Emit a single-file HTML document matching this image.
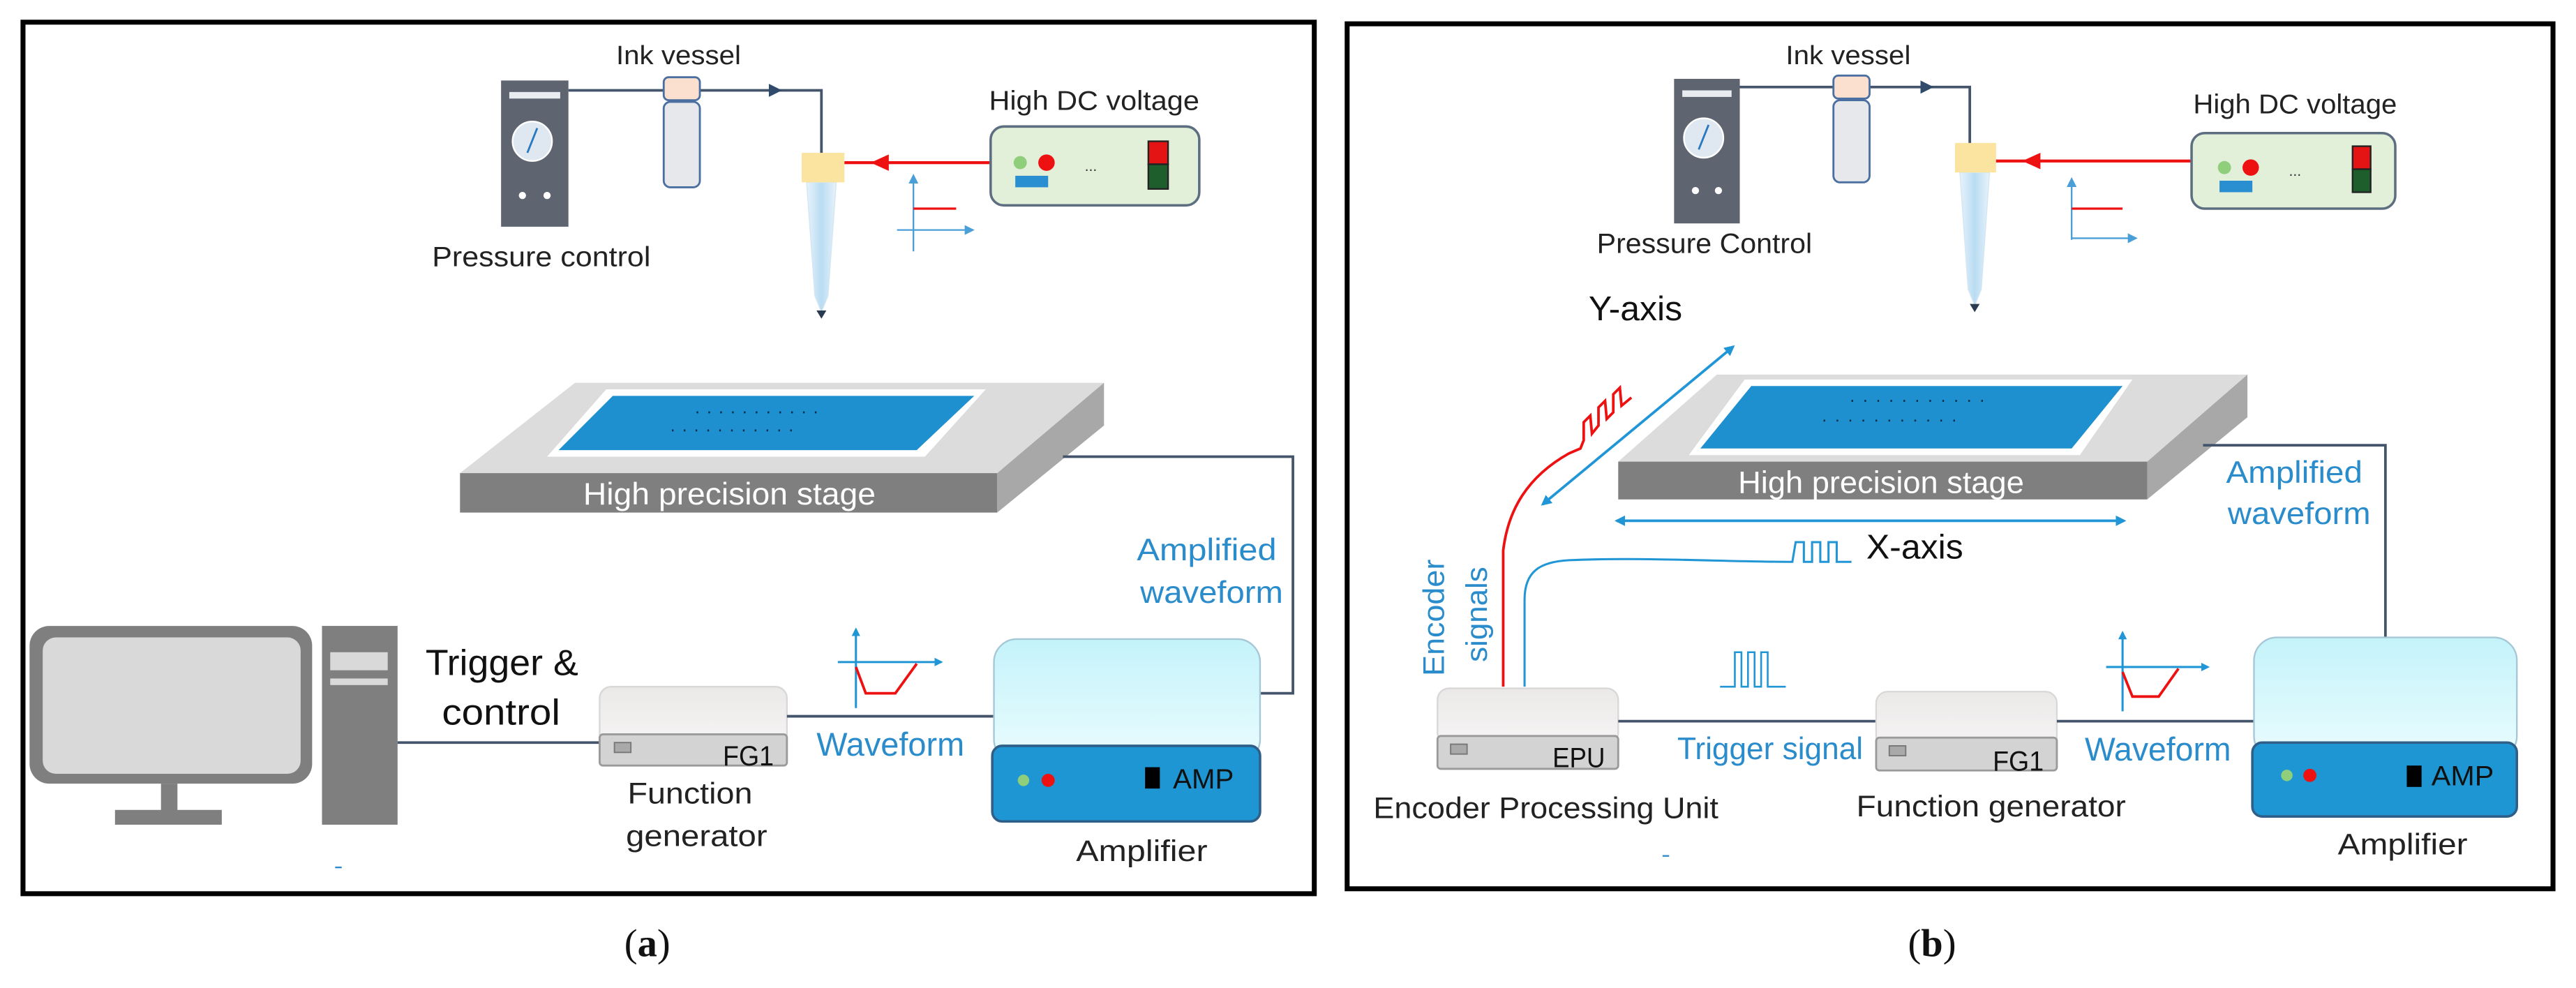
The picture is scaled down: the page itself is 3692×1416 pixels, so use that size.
<!DOCTYPE html>
<html><head><meta charset="utf-8"><style>
html,body{margin:0;padding:0;background:#fff;}
svg{display:block;}
text{font-family:"Liberation Sans",sans-serif;}
</style></head><body>
<svg width="3692" height="1416" viewBox="0 0 1568 601.4" preserveAspectRatio="none" xmlns="http://www.w3.org/2000/svg">
<defs>
<linearGradient id="amp" x1="0" y1="0" x2="0" y2="1"><stop offset="0" stop-color="#c4f3fa"/><stop offset="1" stop-color="#eafcfe"/></linearGradient>
<linearGradient id="box" x1="0" y1="0" x2="0" y2="1"><stop offset="0" stop-color="#ebe8e8"/><stop offset="1" stop-color="#f6f4f4"/></linearGradient>
<linearGradient id="tube" x1="0" y1="0" x2="1" y2="0"><stop offset="0" stop-color="#e8f3fb"/><stop offset="0.5" stop-color="#b9dcf2"/><stop offset="1" stop-color="#e8f3fb"/></linearGradient>
<marker id="ab" viewBox="0 0 10 10" refX="8" refY="5" markerWidth="4" markerHeight="4" orient="auto-start-reverse"><path d="M0,0L10,5L0,10z" fill="#2196d6"/></marker>
<marker id="abs" viewBox="0 0 10 10" refX="8" refY="5" markerWidth="6" markerHeight="6" orient="auto"><path d="M0,0L10,5L0,10z" fill="#4a9fd8"/></marker>
</defs>
<rect width="1568" height="601.4" fill="#fff"/>

<rect x="14" y="13.5" width="786" height="530.5" fill="none" stroke="#000" stroke-width="3"/>
<rect x="820" y="14.5" width="734" height="526.5" fill="none" stroke="#000" stroke-width="3"/>

<!-- ================= PANEL A ================= -->
<g>
<path d="M346,55 H500 V93" fill="none" stroke="#44546a" stroke-width="1.6"/>
<path d="M468,51 L476,55 L468,59z" fill="#2f4a6a"/>
<rect x="305" y="49" width="41" height="89" fill="#5e6470"/>
<rect x="310" y="56" width="31" height="4" fill="#e8ecf0"/>
<circle cx="324" cy="86" r="12" fill="#dfe8f0" stroke="#fff" stroke-width="1"/>
<path d="M321,93 L327,78" stroke="#2a78c2" stroke-width="1.2"/>
<circle cx="318" cy="119" r="2.2" fill="#fff"/><circle cx="333" cy="119" r="2.2" fill="#fff"/>
<text x="263" y="162" font-size="17" textLength="133" lengthAdjust="spacingAndGlyphs" fill="#222">Pressure control</text>
<rect x="404" y="47" width="22" height="14" rx="3" fill="#fbe0d0" stroke="#4a6fa0" stroke-width="1.2"/>
<rect x="404" y="62" width="22" height="52" rx="4" fill="#e6e8ec" stroke="#4a6fa0" stroke-width="1.2"/>
<text x="375" y="39" font-size="16" textLength="76" lengthAdjust="spacingAndGlyphs" fill="#222">Ink vessel</text>
<path d="M491,111 L509,111 L504,180 L500,190 L496,180 Z" fill="url(#tube)" stroke="#d3e6f3" stroke-width="0.6"/>
<path d="M497,189 L503,189 L500,194z" fill="#2a3a50"/>
<rect x="488" y="93" width="26" height="18" fill="#fbe49f"/>
<path d="M603,99 H514" stroke="#ee1111" stroke-width="1.8"/>
<path d="M530,99 L541,94 L541,104z" fill="#ee1111"/>
<text x="602" y="67" font-size="16.5" textLength="128" lengthAdjust="spacingAndGlyphs" fill="#222">High DC voltage</text>
<rect x="603" y="77" width="127" height="48" rx="8" fill="#e2efd9" stroke="#5c6e80" stroke-width="1.5"/>
<circle cx="621" cy="99" r="4" fill="#8fce7b"/><circle cx="637" cy="99" r="5" fill="#ee1111"/>
<rect x="618" y="107" width="20" height="7" fill="#2a8fd0"/>
<text x="664" y="104" font-size="9" text-anchor="middle" fill="#333">...</text>
<rect x="699" y="86" width="12" height="14" fill="#e51414" stroke="#222" stroke-width="1"/>
<rect x="699" y="100" width="12" height="15" fill="#1e5e2c" stroke="#222" stroke-width="1"/>
<path d="M556,153 V107" stroke="#4a9fd8" stroke-width="1" marker-end="url(#abs)"/>
<path d="M546,140 H592" stroke="#4a9fd8" stroke-width="1" marker-end="url(#abs)"/>
<path d="M556,127 H582" stroke="#ee1111" stroke-width="1.4"/>
<polygon points="280,288 350,233 672,233 607,288" fill="#dcdcdc"/>
<polygon points="607,288 672,233 672,259 607,312" fill="#a8a8a8"/>
<rect x="280" y="288" width="327" height="24" fill="#7f7f7f"/>
<polygon points="333,278 369,237 600,237 563,278" fill="#fff"/>
<polygon points="340,274 373,241 593,241 558,274" fill="#1e8fcf"/>
<line x1="424" y1="251" x2="503" y2="251" stroke="#0a2a45" stroke-width="1.2" stroke-dasharray="1,6.2"/>
<line x1="409" y1="262" x2="488" y2="262" stroke="#0a2a45" stroke-width="1.2" stroke-dasharray="1,6.2"/>
<text x="355" y="307" font-size="19" textLength="178" lengthAdjust="spacingAndGlyphs" fill="#fff">High precision stage</text>
<path d="M647,278 H787 V422 H767" fill="none" stroke="#44546a" stroke-width="1.6"/>
<text x="692" y="341" font-size="19" textLength="85" lengthAdjust="spacingAndGlyphs" fill="#2b8ccc">Amplified</text>
<text x="694" y="367" font-size="19" textLength="87" lengthAdjust="spacingAndGlyphs" fill="#2b8ccc">waveform</text>
<rect x="18" y="381" width="172" height="96" rx="12" fill="#7f7f7f"/>
<rect x="26" y="388" width="157" height="83" rx="8" fill="#d9d9d9"/>
<rect x="98" y="477" width="10" height="17" fill="#7f7f7f"/>
<rect x="70" y="493" width="65" height="9" fill="#7f7f7f"/>
<rect x="196" y="381" width="46" height="121" fill="#7f7f7f"/>
<rect x="201" y="397" width="35" height="11" fill="#d9d9d9"/>
<rect x="201" y="413" width="35" height="4" fill="#d9d9d9"/>
<text x="259" y="411" font-size="22" textLength="93" lengthAdjust="spacingAndGlyphs" fill="#111">Trigger &amp;</text>
<text x="269" y="441" font-size="22" textLength="72" lengthAdjust="spacingAndGlyphs" fill="#111">control</text>
<path d="M242,452 H365" stroke="#44546a" stroke-width="1.6"/>
<rect x="365" y="418" width="114" height="36" rx="7" fill="url(#box)" stroke="#d8d8d8" stroke-width="1"/>
<rect x="365" y="447" width="114" height="19" rx="2" fill="#d3d3d3" stroke="#9a9a9a" stroke-width="1.2"/>
<rect x="374" y="452" width="10" height="6" fill="#a9a9a9" stroke="#777" stroke-width="0.8"/>
<text x="440" y="466" font-size="17" textLength="31" lengthAdjust="spacingAndGlyphs" fill="#111">FG1</text>
<text x="382" y="489" font-size="18" textLength="76" lengthAdjust="spacingAndGlyphs" fill="#222">Function</text>
<text x="381" y="515" font-size="18" textLength="86" lengthAdjust="spacingAndGlyphs" fill="#222">generator</text>
<path d="M479,436 H605" stroke="#44546a" stroke-width="1.6"/>
<path d="M521,431 V383" stroke="#2196d6" stroke-width="1.3" marker-end="url(#ab)"/>
<path d="M510,403 H573" stroke="#2196d6" stroke-width="1.3" marker-end="url(#ab)"/>
<path d="M521,406 L527,422 L545,422 L558,404" fill="none" stroke="#ee1111" stroke-width="1.6"/>
<text x="497" y="460" font-size="20" textLength="90" lengthAdjust="spacingAndGlyphs" fill="#2b8ccc">Waveform</text>
<rect x="605" y="389" width="162" height="75" rx="14" fill="url(#amp)" stroke="#a6c8d6" stroke-width="1"/>
<rect x="604" y="454" width="163" height="46" rx="6" fill="#1e96d3" stroke="#2f5f88" stroke-width="1.5"/>
<circle cx="623" cy="475" r="3.5" fill="#8fce7b"/><circle cx="638" cy="475" r="4" fill="#ee1111"/>
<rect x="697" y="467" width="9" height="13" fill="#000"/>
<text x="714" y="480" font-size="17" textLength="37" lengthAdjust="spacingAndGlyphs" fill="#111">AMP</text>
<text x="655" y="524" font-size="18" textLength="80" lengthAdjust="spacingAndGlyphs" fill="#222">Amplifier</text>
<path d="M204,528 H208" stroke="#2b8ccc" stroke-width="1"/>
</g>

<!-- ================= PANEL B ================= -->
<g>
<path d="M1059,53 H1199 V88" fill="none" stroke="#44546a" stroke-width="1.6"/>
<path d="M1169,49 L1177,53 L1169,57z" fill="#2f4a6a"/>
<rect x="1019" y="48" width="40" height="88" fill="#5e6470"/>
<rect x="1024" y="55" width="30" height="4" fill="#e8ecf0"/>
<circle cx="1037" cy="84" r="12" fill="#dfe8f0" stroke="#fff" stroke-width="1"/>
<path d="M1034,91 L1040,76" stroke="#2a78c2" stroke-width="1.2"/>
<circle cx="1032" cy="116" r="2.2" fill="#fff"/><circle cx="1046" cy="116" r="2.2" fill="#fff"/>
<text x="972" y="154" font-size="17" textLength="131" lengthAdjust="spacingAndGlyphs" fill="#222">Pressure Control</text>
<rect x="1116" y="46" width="22" height="14" rx="3" fill="#fbe0d0" stroke="#4a6fa0" stroke-width="1.2"/>
<rect x="1116" y="61" width="22" height="50" rx="4" fill="#e6e8ec" stroke="#4a6fa0" stroke-width="1.2"/>
<text x="1087" y="39" font-size="16" textLength="76" lengthAdjust="spacingAndGlyphs" fill="#222">Ink vessel</text>
<path d="M1193,105 L1211,105 L1206,176 L1202,186 L1198,176 Z" fill="url(#tube)" stroke="#d3e6f3" stroke-width="0.6"/>
<path d="M1199,185 L1205,185 L1202,190z" fill="#2a3a50"/>
<rect x="1190" y="87" width="25" height="18" fill="#fbe49f"/>
<path d="M1334,98 H1215" stroke="#ee1111" stroke-width="1.8"/>
<path d="M1231,98 L1242,93 L1242,103z" fill="#ee1111"/>
<text x="1335" y="69" font-size="16.5" textLength="124" lengthAdjust="spacingAndGlyphs" fill="#222">High DC voltage</text>
<rect x="1334" y="81" width="124" height="46" rx="8" fill="#e2efd9" stroke="#5c6e80" stroke-width="1.5"/>
<circle cx="1354" cy="102" r="4" fill="#8fce7b"/><circle cx="1370" cy="102" r="5" fill="#ee1111"/>
<rect x="1351" y="110" width="20" height="7" fill="#2a8fd0"/>
<text x="1397" y="107" font-size="9" text-anchor="middle" fill="#333">...</text>
<rect x="1432" y="89" width="11" height="14" fill="#e51414" stroke="#222" stroke-width="1"/>
<rect x="1432" y="103" width="11" height="14" fill="#1e5e2c" stroke="#222" stroke-width="1"/>
<path d="M1261,146 V109" stroke="#4a9fd8" stroke-width="1" marker-end="url(#abs)"/>
<path d="M1261,145 H1300" stroke="#4a9fd8" stroke-width="1" marker-end="url(#abs)"/>
<path d="M1261,127 H1292" stroke="#ee1111" stroke-width="1.4"/>
<text x="967" y="195" font-size="21" textLength="57" lengthAdjust="spacingAndGlyphs" fill="#111">Y-axis</text>
<path d="M939,307 L1055,211" stroke="#2196d6" stroke-width="1.6" marker-start="url(#ab)" marker-end="url(#ab)"/>
<polygon points="985,281 1045,228 1368,228 1307,281" fill="#dcdcdc"/>
<polygon points="1307,281 1368,228 1368,254 1307,304" fill="#a8a8a8"/>
<rect x="985" y="281" width="322" height="23" fill="#7f7f7f"/>
<polygon points="1028,277 1062,231 1298,231 1266,277" fill="#fff"/>
<polygon points="1035,273 1066,235 1292,235 1261,273" fill="#1e8fcf"/>
<line x1="1127" y1="244" x2="1207" y2="244" stroke="#0a2a45" stroke-width="1.2" stroke-dasharray="1,6.9"/>
<line x1="1110" y1="256" x2="1190" y2="256" stroke="#0a2a45" stroke-width="1.2" stroke-dasharray="1,6.9"/>
<text x="1058" y="300" font-size="19" textLength="174" lengthAdjust="spacingAndGlyphs" fill="#fff">High precision stage</text>
<path d="M1341,271 H1452 V388" fill="none" stroke="#44546a" stroke-width="1.6"/>
<text x="1355" y="294" font-size="19" textLength="83" lengthAdjust="spacingAndGlyphs" fill="#2b8ccc">Amplified</text>
<text x="1356" y="319" font-size="19" textLength="87" lengthAdjust="spacingAndGlyphs" fill="#2b8ccc">waveform</text>
<path d="M984,317 H1293" stroke="#2196d6" stroke-width="1.6" marker-start="url(#ab)" marker-end="url(#ab)"/>
<text x="1136" y="340" font-size="21" textLength="59" lengthAdjust="spacingAndGlyphs" fill="#111">X-axis</text>
<path d="M915,418 V335 C918,310 930,290 955,276 L962,273 L964,268 L964,257 L968,253 L969,264 L973,259 L973,248 L977,244 L978,255 L982,251 L982,240 L986,236 L987,247 L993,242" fill="none" stroke="#ee1111" stroke-width="1.6"/>
<path d="M928,418 V365 C928,348 937,342 955,341 C1000,339 1050,342 1091,342 L1093,330 L1098,330 L1098,342 L1103,342 L1103,330 L1108,330 L1108,342 L1113,342 L1113,330 L1118,330 L1118,342 L1127,342" fill="none" stroke="#2196d6" stroke-width="1.3"/>
<text transform="translate(879,376) rotate(-90)" font-size="18" text-anchor="middle" textLength="71" lengthAdjust="spacingAndGlyphs" fill="#2b8ccc">Encoder</text>
<text transform="translate(905,374) rotate(-90)" font-size="18" text-anchor="middle" textLength="58" lengthAdjust="spacingAndGlyphs" fill="#2b8ccc">signals</text>
<path d="M1047,418 H1056 V397 H1060 V418 H1064 V397 H1068 V418 H1072 V397 H1076 V418 H1087" fill="none" stroke="#2196d6" stroke-width="1.1"/>
<rect x="875" y="419" width="110" height="34" rx="7" fill="url(#box)" stroke="#d8d8d8" stroke-width="1"/>
<rect x="875" y="448" width="110" height="20" rx="2" fill="#d3d3d3" stroke="#9a9a9a" stroke-width="1.2"/>
<rect x="883" y="453" width="10" height="6" fill="#a9a9a9" stroke="#777" stroke-width="0.8"/>
<text x="945" y="467" font-size="17" textLength="32" lengthAdjust="spacingAndGlyphs" fill="#111">EPU</text>
<text x="836" y="498" font-size="18" textLength="210" lengthAdjust="spacingAndGlyphs" fill="#222">Encoder Processing Unit</text>
<path d="M985,439 H1142" stroke="#44546a" stroke-width="1.6"/>
<text x="1021" y="462" font-size="19" textLength="113" lengthAdjust="spacingAndGlyphs" fill="#2b8ccc">Trigger signal</text>
<rect x="1142" y="421" width="110" height="34" rx="7" fill="url(#box)" stroke="#d8d8d8" stroke-width="1"/>
<rect x="1142" y="449" width="110" height="20" rx="2" fill="#d3d3d3" stroke="#9a9a9a" stroke-width="1.2"/>
<rect x="1150" y="454" width="10" height="6" fill="#a9a9a9" stroke="#777" stroke-width="0.8"/>
<text x="1213" y="469" font-size="17" textLength="31" lengthAdjust="spacingAndGlyphs" fill="#111">FG1</text>
<text x="1130" y="497" font-size="18" textLength="164" lengthAdjust="spacingAndGlyphs" fill="#222">Function generator</text>
<path d="M1252,439 H1372" stroke="#44546a" stroke-width="1.6"/>
<path d="M1292,433 V385" stroke="#2196d6" stroke-width="1.3" marker-end="url(#ab)"/>
<path d="M1282,406 H1344" stroke="#2196d6" stroke-width="1.3" marker-end="url(#ab)"/>
<path d="M1292,409 L1298,424 L1314,424 L1326,407" fill="none" stroke="#ee1111" stroke-width="1.6"/>
<text x="1269" y="463" font-size="20" textLength="89" lengthAdjust="spacingAndGlyphs" fill="#2b8ccc">Waveform</text>
<rect x="1372" y="388" width="160" height="74" rx="14" fill="url(#amp)" stroke="#a6c8d6" stroke-width="1"/>
<rect x="1371" y="452" width="161" height="45" rx="6" fill="#1e96d3" stroke="#2f5f88" stroke-width="1.5"/>
<circle cx="1392" cy="472" r="3.5" fill="#8fce7b"/><circle cx="1406" cy="472" r="4" fill="#ee1111"/>
<rect x="1465" y="466" width="9" height="13" fill="#000"/>
<text x="1480" y="478" font-size="17" textLength="38" lengthAdjust="spacingAndGlyphs" fill="#111">AMP</text>
<text x="1423" y="520" font-size="18" textLength="79" lengthAdjust="spacingAndGlyphs" fill="#222">Amplifier</text>
<path d="M1012,521 H1016" stroke="#2b8ccc" stroke-width="1"/>
</g>

<text x="394" y="582" font-size="24" text-anchor="middle" fill="#111" style="font-family:'Liberation Serif',serif">(<tspan font-weight="bold">a</tspan>)</text>
<text x="1176" y="582" font-size="24" text-anchor="middle" fill="#111" style="font-family:'Liberation Serif',serif">(<tspan font-weight="bold">b</tspan>)</text>
</svg>
</body></html>
